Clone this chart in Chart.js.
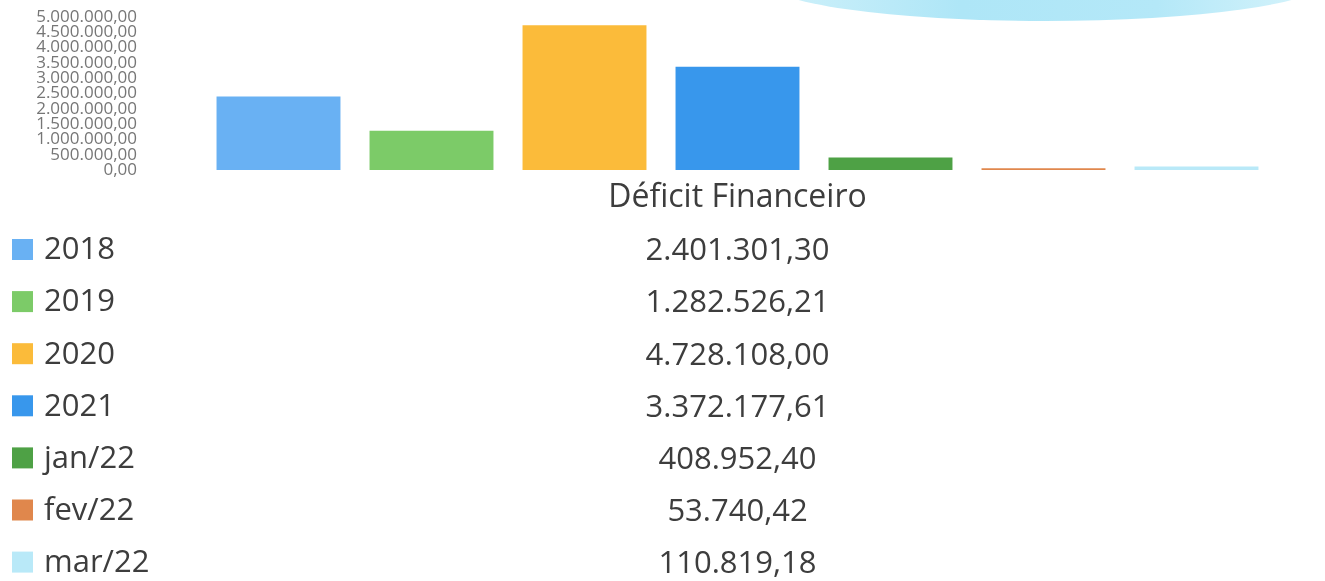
<!DOCTYPE html>
<html>
<head>
<meta charset="utf-8">
<script src="https://cdn.jsdelivr.net/npm/chart.js@4/dist/chart.umd.min.js"></script>
<style>
  html, body { margin: 0; padding: 0; background: #ffffff; overflow: hidden; }
  #wrap { position: relative; width: 1325px; height: 581px; }
  #deco {
    position: absolute; left: 765px; top: -59px; width: 560px; height: 80px;
    border-radius: 50%;
    background: linear-gradient(90deg, #d0f1fa 0%, #aee6f7 35%, #b4e8f8 70%, #d8f4fb 100%);
  }
  canvas { position: absolute; left: 0; top: 0; }
</style>
</head>
<body>
<div id="wrap">
  <div id="deco"></div>
  <canvas id="c" width="1325" height="581"></canvas>
</div>
<script>
// ---- data ----
const categories = ['2018', '2019', '2020', '2021', 'jan/22', 'fev/22', 'mar/22'];
const seriesName = 'Déficit Financeiro';
const values = [2401301.30, 1282526.21, 4728108.00, 3372177.61, 408952.40, 53740.42, 110819.18];
const colors = ['#69b1f3', '#7ccb68', '#fbbb3a', '#3897ec', '#4ea145', '#e0874c', '#b9e9f8'];
const yMax = 5000000;
const yStep = 500000;

function fmtBR(v) {
  const neg = v < 0;
  v = Math.abs(v);
  const fixed = v.toFixed(2);
  let [intPart, dec] = fixed.split('.');
  intPart = intPart.replace(/\B(?=(\d{3})+(?!\d))/g, '.');
  return (neg ? '-' : '') + intPart + ',' + dec;
}

const FONT = "'Open Sans', 'Noto Sans', sans-serif";
const TEXT = '#3d3d3d';

const tablePlugin = {
  id: 'dataTable',
  afterDraw(chart) {
    const ctx = chart.ctx;
    const area = chart.chartArea;
    const cx = (area.left + area.right) / 2;
    const y0 = 249.5, dy = 52.1;
    ctx.save();
    ctx.fillStyle = TEXT;
    ctx.font = '32px ' + FONT;
    ctx.textBaseline = 'middle';
    ctx.textAlign = 'center';
    ctx.fillText(chart.data.labels[0], cx, 198);
    chart.data.datasets.forEach((ds, i) => {
      const yc = y0 + i * dy;
      ctx.fillStyle = ds.backgroundColor;
      ctx.fillRect(12, yc - 10.5, 21, 21);
      ctx.fillStyle = TEXT;
      ctx.font = '31px ' + FONT;
      ctx.textBaseline = 'middle';
      ctx.textAlign = 'left';
      ctx.fillText(ds.label, 44, yc + 1);
      ctx.textAlign = 'center';
      ctx.fillText(fmtBR(ds.data[0]), cx, yc + 2);
    });
    ctx.restore();
  }
};

const datasets = categories.map((cat, i) => ({
  label: cat,
  data: [values[i]],
  backgroundColor: colors[i],
  borderWidth: 0,
  barPercentage: 0.81,
  categoryPercentage: 1.0
}));

new Chart(document.getElementById('c'), {
  type: 'bar',
  data: { labels: [seriesName], datasets },
  options: {
    responsive: false,
    animation: false,
    devicePixelRatio: 1,
    layout: { padding: { top: 17, right: 52, left: 0, bottom: 411 } },
    plugins: { legend: { display: false }, tooltip: { enabled: false }, title: { display: false } },
    scales: {
      x: {
        grid: { display: false, drawTicks: false },
        border: { display: false },
        ticks: { display: false }
      },
      y: {
        min: 0, max: yMax,
        grid: { display: false, drawTicks: false },
        border: { display: false },
        ticks: {
          stepSize: yStep,
          autoSkip: false,
          color: '#767676',
          font: { family: FONT, size: 17, lineHeight: 0.9 },
          padding: 65,
          callback: (v) => fmtBR(v)
        },
        afterFit(scale) {
          scale.width = 202;
          scale.paddingTop = 0;
          scale.paddingBottom = 0;
        }
      }
    }
  },
  plugins: [tablePlugin]
});
</script>
</body>
</html>
